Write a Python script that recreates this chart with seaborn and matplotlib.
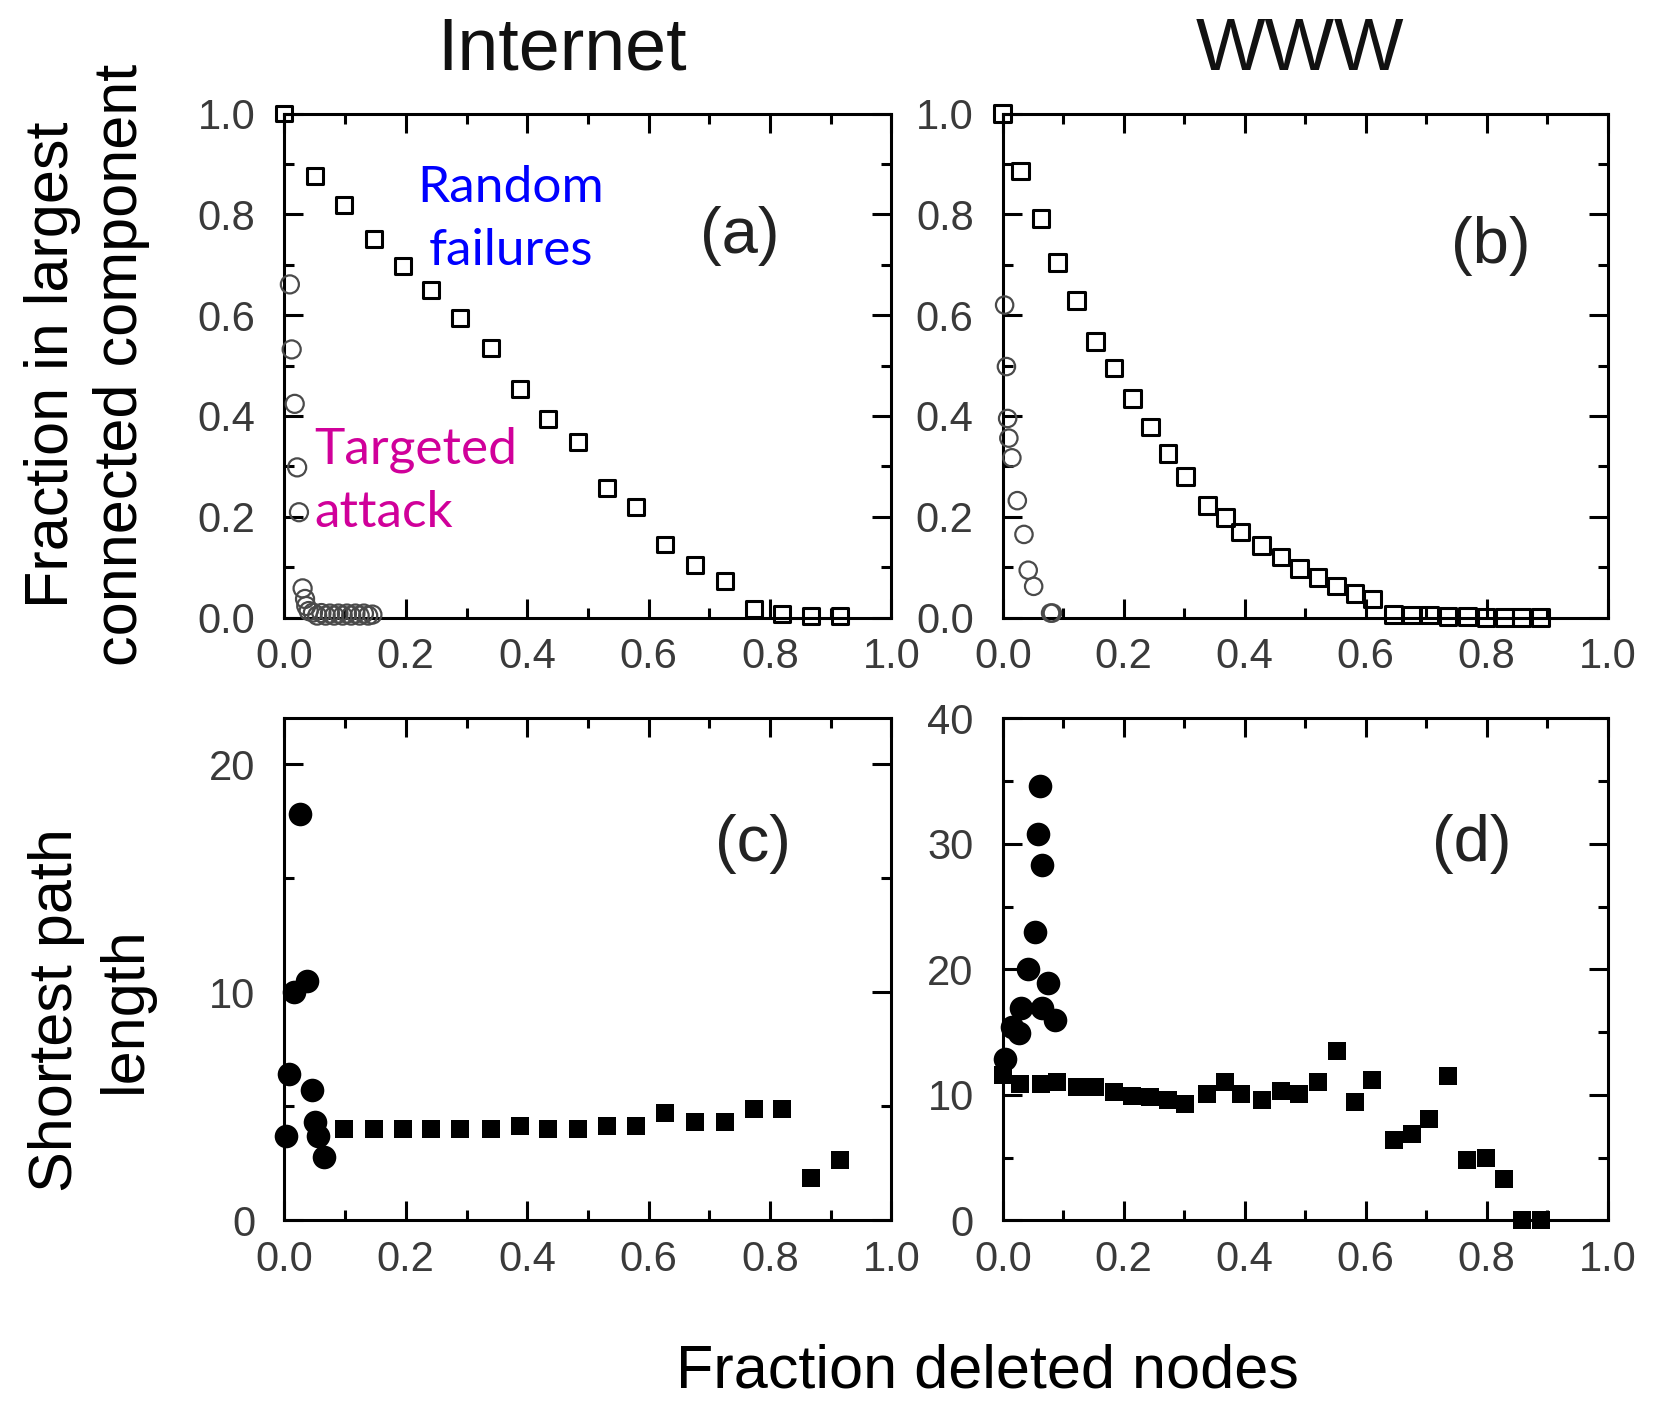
import numpy as np
import pandas as pd
import matplotlib
matplotlib.use("Agg")
import matplotlib.pyplot as plt
import seaborn as sns
from matplotlib.ticker import MultipleLocator, FormatStrFormatter

# ---------------- data ----------------
# (a) Internet: fraction in largest component
a_rand_x = [0.0, 0.050, 0.098, 0.147, 0.195, 0.242, 0.289, 0.340, 0.388, 0.435,
            0.484, 0.532, 0.579, 0.627, 0.676, 0.726, 0.773, 0.820, 0.868, 0.915]
a_rand_y = [1.0, 0.876, 0.818, 0.752, 0.697, 0.649, 0.594, 0.534, 0.454, 0.394,
            0.348, 0.257, 0.219, 0.145, 0.104, 0.073, 0.018, 0.007, 0.004, 0.004]
a_targ_x = [0.009, 0.012, 0.017, 0.021, 0.024, 0.030, 0.034, 0.036,
            0.040, 0.047, 0.054, 0.061, 0.068, 0.075, 0.082, 0.089,
            0.096, 0.103, 0.110, 0.117, 0.124, 0.131, 0.138, 0.145]
a_targ_y = [0.661, 0.532, 0.424, 0.298, 0.209, 0.058, 0.037, 0.023,
            0.013, 0.010, 0.004, 0.009, 0.004, 0.008, 0.004, 0.008,
            0.004, 0.008, 0.004, 0.008, 0.004, 0.008, 0.004, 0.006]

# (b) WWW: fraction in largest component
b_rand_x = [0.0, 0.029, 0.063, 0.090, 0.122, 0.153, 0.184, 0.214, 0.244, 0.273,
            0.302, 0.338, 0.368, 0.393, 0.428, 0.460, 0.490, 0.521, 0.552, 0.582,
            0.611, 0.646, 0.676, 0.705, 0.736, 0.768, 0.799, 0.829, 0.858, 0.889]
b_rand_y = [1.0, 0.886, 0.792, 0.705, 0.629, 0.548, 0.495, 0.434, 0.378, 0.326,
            0.280, 0.223, 0.198, 0.170, 0.143, 0.120, 0.097, 0.079, 0.063, 0.048,
            0.037, 0.006, 0.005, 0.005, 0.002, 0.002, 0.0, 0.0, 0.0, 0.0]
b_targ_x = [0.003, 0.006, 0.008, 0.010, 0.015, 0.024, 0.035, 0.042, 0.051, 0.079, 0.082]
b_targ_y = [0.620, 0.498, 0.395, 0.356, 0.317, 0.232, 0.165, 0.094, 0.062, 0.009, 0.009]

# (c) Internet: shortest path length
c_rand_x = [0.098, 0.147, 0.195, 0.242, 0.289, 0.340, 0.388, 0.435, 0.484,
            0.532, 0.579, 0.627, 0.676, 0.726, 0.773, 0.820, 0.868, 0.915]
c_rand_y = [4.0, 4.0, 4.0, 4.0, 4.0, 4.0, 4.15, 4.0, 4.0,
            4.15, 4.15, 4.7, 4.3, 4.3, 4.9, 4.9, 1.85, 2.65]
c_targ_x = [0.002, 0.007, 0.015, 0.026, 0.037, 0.046, 0.050, 0.055, 0.066]
c_targ_y = [3.7, 6.4, 10.0, 17.8, 10.5, 5.7, 4.3, 3.7, 2.8]

# (d) WWW: shortest path length
d_rand_x = b_rand_x
d_rand_y = [11.6, 10.9, 10.9, 11.0, 10.6, 10.6, 10.2, 9.9, 9.8, 9.6,
            9.3, 10.1, 11.0, 10.1, 9.6, 10.3, 10.1, 11.0, 13.5, 9.4,
            11.2, 6.4, 6.9, 8.1, 11.5, 4.8, 5.0, 3.3, 0.0, 0.0]
d_targ_x = [0.003, 0.016, 0.026, 0.030, 0.042, 0.054, 0.058, 0.061, 0.065, 0.065, 0.074, 0.086]
d_targ_y = [12.9, 15.4, 14.9, 16.9, 20.0, 23.0, 30.8, 34.6, 28.3, 16.9, 18.9, 16.0]

x_ticks = [0.0, 0.2, 0.4, 0.6, 0.8, 1.0]
titles = ["Internet", "WWW"]
panel_labels = ["(a)", "(b)", "(c)", "(d)"]

# ---------------- style ----------------
sns.set_theme(style="white")
plt.rcParams["font.family"] = ["Liberation Sans", "DejaVu Sans"]

W, H = 1664, 1414
fig = plt.figure(figsize=(W / 100, H / 100), dpi=100)
fig.patch.set_facecolor("white")


def add_ax(l, t, r, b):
    return fig.add_axes([l / W, 1 - b / H, (r - l) / W, (b - t) / H])


ax_a = add_ax(284.4, 113.5, 891.4, 617.6)
ax_b = add_ax(1002.8, 113.5, 1607.7, 617.6)
ax_c = add_ax(284.4, 718.4, 891.4, 1220.4)
ax_d = add_ax(1002.8, 718.4, 1607.7, 1220.4)


def pts(ax, x, y, marker, size, face, edge, lw, z=3):
    df = pd.DataFrame({"x": x, "y": y})
    sns.scatterplot(data=df, x="x", y="y", ax=ax, marker=marker, s=size ** 2,
                    color=edge, legend=False, zorder=z, clip_on=False)
    coll = ax.collections[-1]
    coll.set_facecolor(face)
    coll.set_edgecolor(edge)
    coll.set_linewidth(lw)
    coll.set_clip_on(False)


# (a)
pts(ax_a, a_targ_x, a_targ_y, "o", 13, "none", "#4a4a4a", 1.6)
pts(ax_a, a_rand_x, a_rand_y, "s", 11.5, "none", "black", 2.2, z=4)
# (b)
pts(ax_b, b_targ_x, b_targ_y, "o", 12.5, "none", "#4a4a4a", 1.6)
pts(ax_b, b_rand_x, b_rand_y, "s", 12, "none", "black", 2.2, z=4)
# (c)
pts(ax_c, c_rand_x, c_rand_y, "s", 13.5, "black", "black", 0)
pts(ax_c, c_targ_x, c_targ_y, "o", 17, "black", "black", 0)
# (d)
pts(ax_d, d_rand_x, d_rand_y, "s", 13.5, "black", "black", 0)
pts(ax_d, d_targ_x, d_targ_y, "o", 17, "black", "black", 0)

tick_color = "#3a3a3a"
for ax, ylim, ymaj, ymin, yfmt in [
    (ax_a, (0, 1), 0.2, 0.1, "%.1f"),
    (ax_b, (0, 1), 0.2, 0.1, "%.1f"),
    (ax_c, (0, 22), 10, 5, "%d"),
    (ax_d, (0, 40), 10, 5, "%d"),
]:
    ax.set_xlim(0, 1)
    ax.set_ylim(*ylim)
    ax.set_xticks(x_ticks)
    ax.xaxis.set_minor_locator(MultipleLocator(0.1))
    ax.xaxis.set_major_formatter(FormatStrFormatter("%.1f"))
    ax.yaxis.set_major_locator(MultipleLocator(ymaj))
    ax.yaxis.set_minor_locator(MultipleLocator(ymin))
    ax.yaxis.set_major_formatter(FormatStrFormatter(yfmt))
    ax.set_xlabel("")
    ax.set_ylabel("")
    ax.tick_params(which="both", direction="in", top=True, right=True,
                   bottom=True, left=True, width=2.2, color="black")
    ax.tick_params(which="major", length=14)
    ax.tick_params(which="minor", length=7)
    ax.tick_params(axis="x", labelsize=30, pad=14, labelcolor=tick_color)
    ax.tick_params(axis="y", labelsize=30, pad=21, labelcolor=tick_color)
    for sp in ax.spines.values():
        sp.set_linewidth(2.2)
        sp.set_color("black")
        sp.set_visible(True)
    ax.set_facecolor("white")

# titles
fig.text(562 / W, 1 - 50 / H, titles[0], fontsize=53, ha="center", va="center", color="#111111")
fig.text(1300 / W, 1 - 50 / H, titles[1], fontsize=53, ha="center", va="center", color="#111111")

# panel labels
for ax, lab, (px, py) in zip([ax_a, ax_b, ax_c, ax_d], panel_labels,
                             [(0.75, 0.757), (0.807, 0.737), (0.772, 0.75), (0.776, 0.75)]):
    ax.text(px, py, lab, transform=ax.transAxes, fontsize=47, ha="center",
            va="center", color="#222222")

# axis labels
fig.text(87 / W, 1 - 365 / H, "Fraction in largest\nconnected component", rotation=90,
         fontsize=44, ha="center", va="center", linespacing=1.28, color="black")
fig.text(91 / W, 1 - 1010 / H, "Shortest path\nlength", rotation=90,
         fontsize=44, ha="center", va="center", linespacing=1.28, color="black")
fig.text(987 / W, 1 - 1372 / H, "Fraction deleted nodes", fontsize=44,
         ha="center", va="center", color="black")

# annotations
ann_font = ["Lato", "DejaVu Sans"]
ax_a.text(0.3725, 0.825, "Random", fontsize=37, color="#0000ff", ha="center",
          va="baseline", family=ann_font)
ax_a.text(0.3725, 0.699, "failures", fontsize=37, color="#0000ff", ha="center",
          va="baseline", family=ann_font)
ax_a.text(0.049, 0.305, "Targeted", fontsize=37, color="#d0009a", ha="left",
          va="baseline", family=ann_font)
ax_a.text(0.049, 0.179, "attack", fontsize=37, color="#d0009a", ha="left",
          va="baseline", family=ann_font)

fig.savefig("out.png", dpi=100, facecolor="white")
